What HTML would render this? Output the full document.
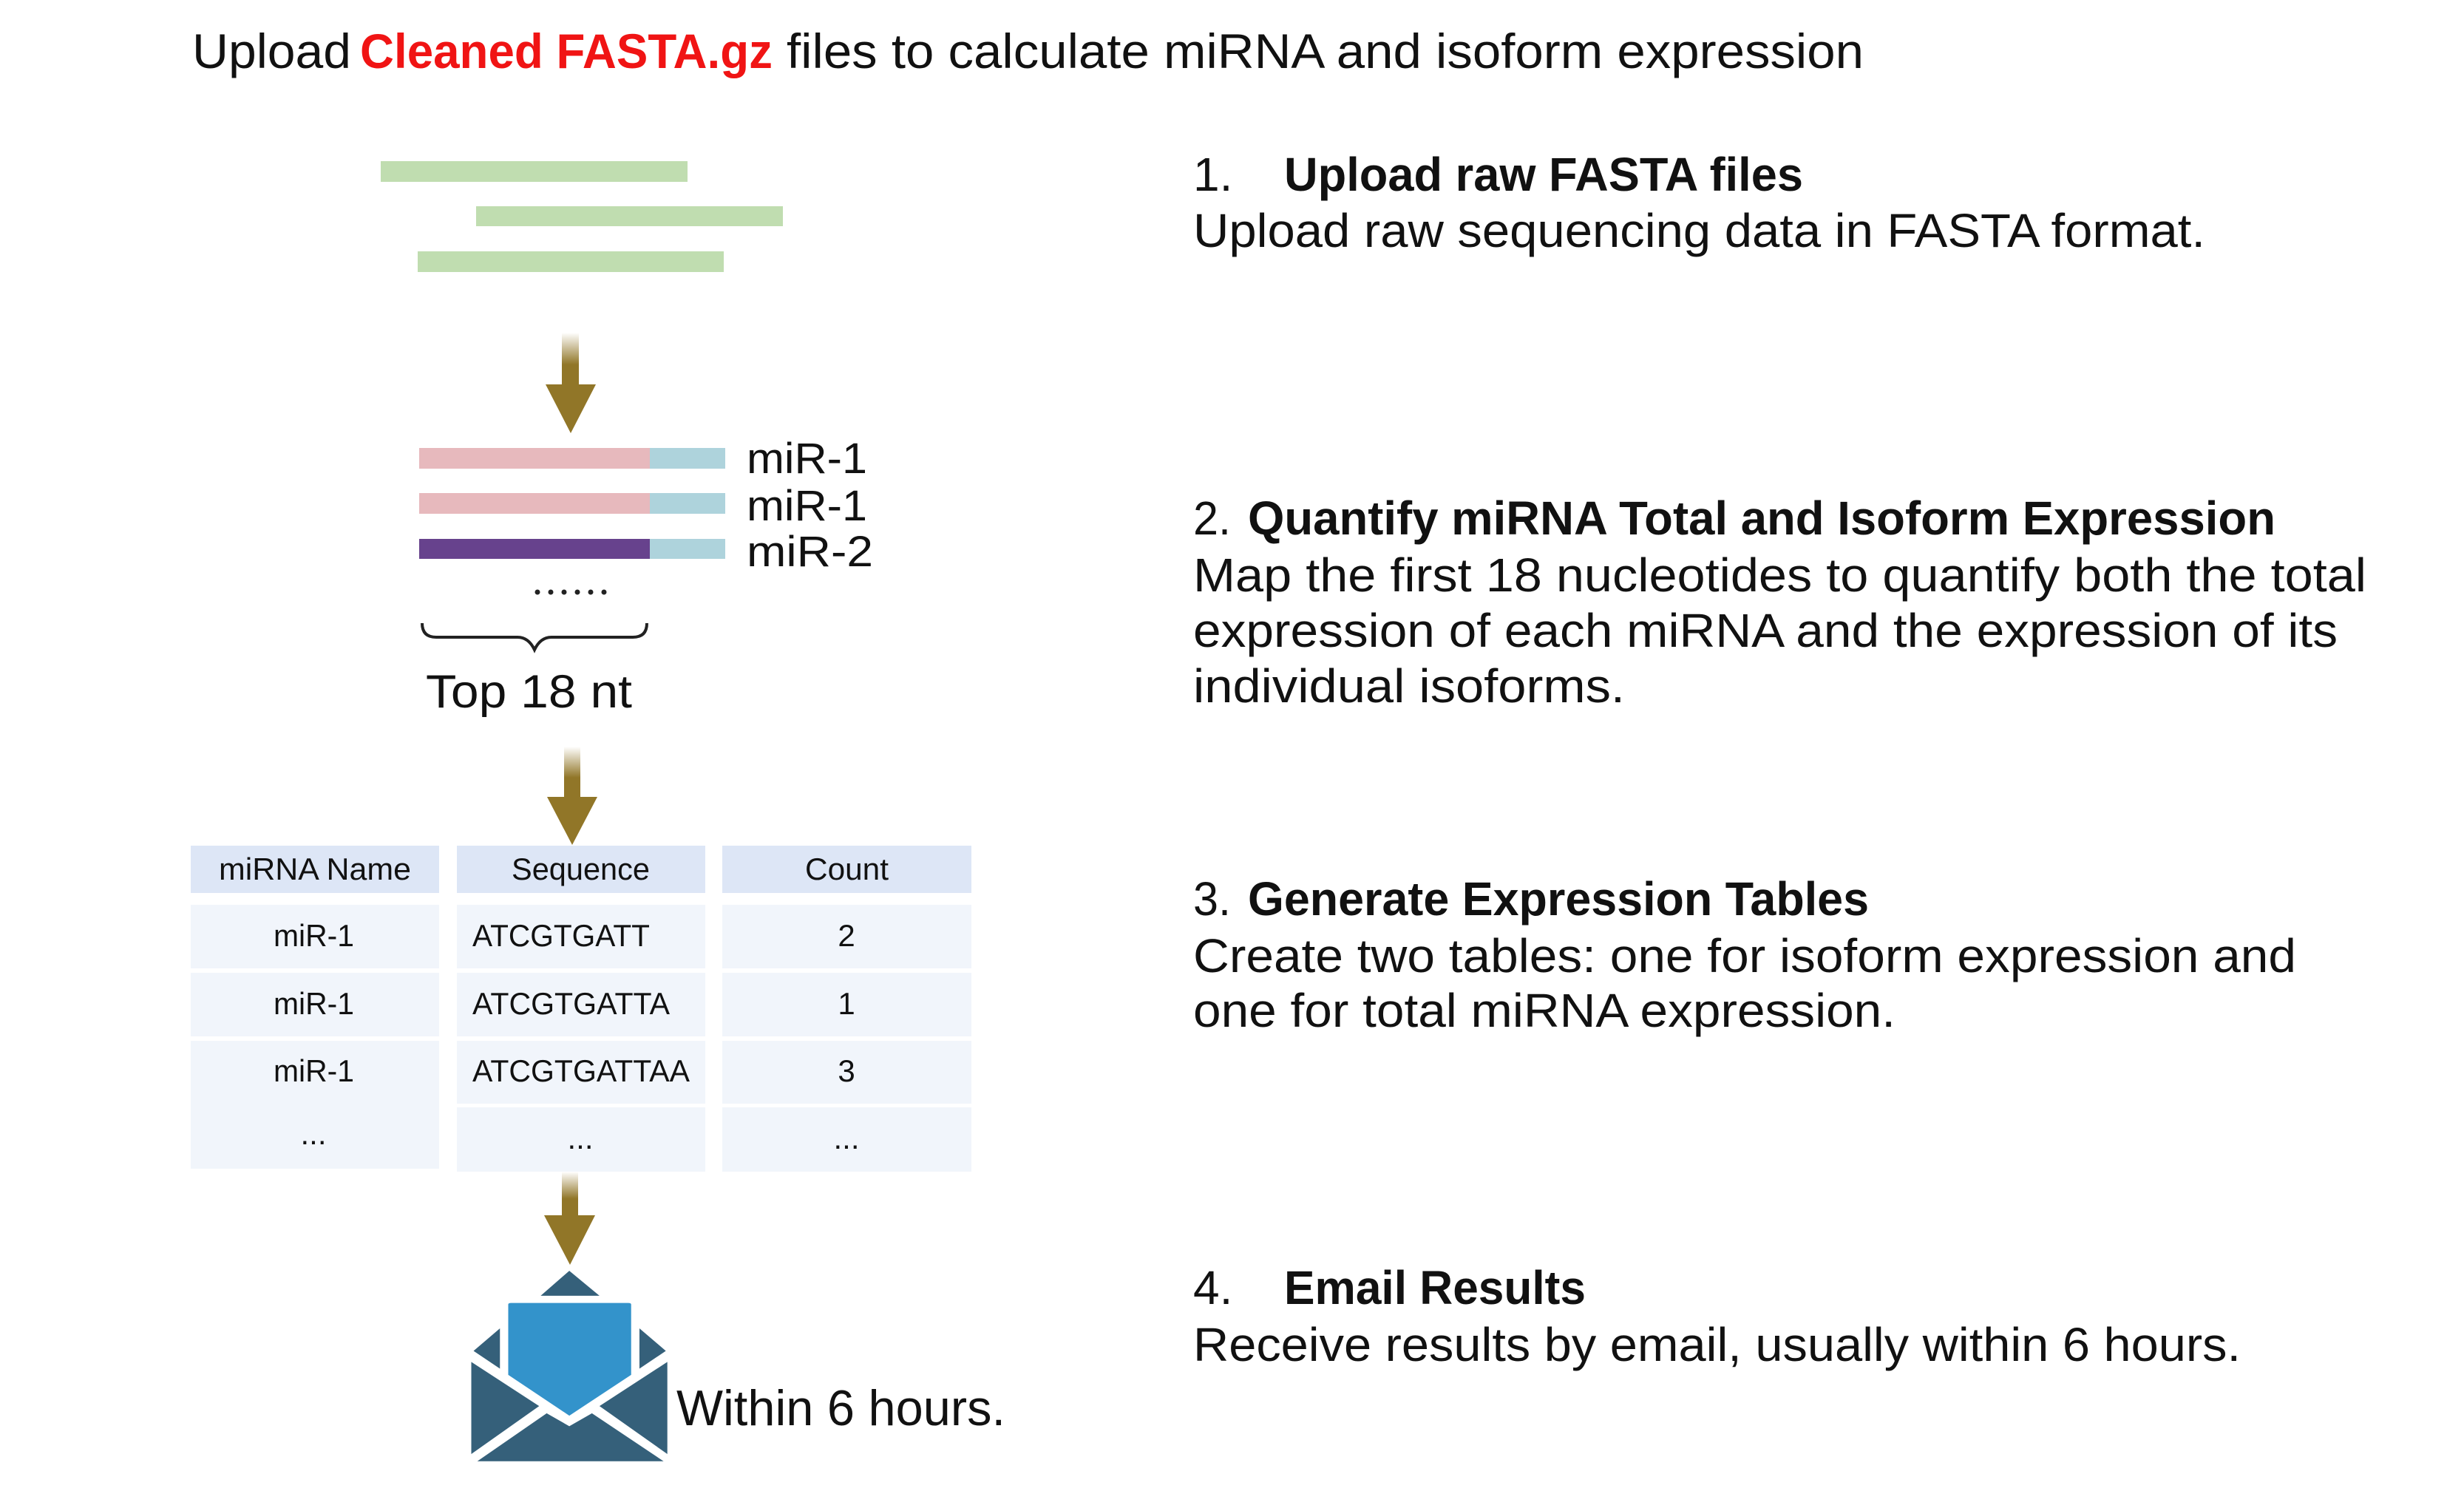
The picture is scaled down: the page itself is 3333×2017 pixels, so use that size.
<!DOCTYPE html>
<html><head><meta charset="utf-8"><style>
html,body{margin:0;padding:0;background:#fff;}
svg{display:block;}
text{font-family:"Liberation Sans",Arial,sans-serif;fill:#111;}
</style></head><body>
<svg width="3333" height="2017" viewBox="0 0 3333 2017" xmlns="http://www.w3.org/2000/svg">
<defs>
<linearGradient id="sh" x1="0" y1="0" x2="0" y2="1">
<stop offset="0" stop-color="#917628" stop-opacity="0"/>
<stop offset="0.6" stop-color="#917628" stop-opacity="1"/>
</linearGradient>
</defs>
<!-- title -->
<text x="260" y="92" font-size="66" textLength="215" lengthAdjust="spacingAndGlyphs">Upload</text>
<text x="487" y="92" font-size="66" font-weight="bold" style="fill:#f01414" textLength="558" lengthAdjust="spacingAndGlyphs">Cleaned FASTA.gz</text>
<text x="1064" y="92" font-size="66" textLength="1457" lengthAdjust="spacingAndGlyphs">files to calculate miRNA and isoform expression</text>

<!-- green reads -->
<rect x="515" y="218" width="415" height="28" fill="#c0ddb0"/>
<rect x="644" y="279" width="415" height="27" fill="#c0ddb0"/>
<rect x="565" y="340" width="414" height="28" fill="#c0ddb0"/>

<!-- arrow 1 -->
<rect x="760" y="450" width="23" height="72" fill="url(#sh)"/>
<polygon points="738,520 806,520 772,586" fill="#917628"/>

<!-- mapped reads -->
<rect x="567" y="606" width="312" height="28" fill="#e7b9bd"/>
<rect x="879" y="606" width="102" height="28" fill="#aed3dc"/>
<rect x="567" y="667" width="312" height="28" fill="#e7b9bd"/>
<rect x="879" y="667" width="102" height="28" fill="#aed3dc"/>
<rect x="567" y="729" width="312" height="27" fill="#67428d"/>
<rect x="879" y="729" width="102" height="27" fill="#aed3dc"/>
<text x="1010" y="640" font-size="58" textLength="163" lengthAdjust="spacingAndGlyphs">miR-1</text>
<text x="1010" y="704" font-size="58" textLength="163" lengthAdjust="spacingAndGlyphs">miR-1</text>
<text x="1010" y="766" font-size="58" textLength="171" lengthAdjust="spacingAndGlyphs">miR-2</text>
<g fill="#222">
<circle cx="727" cy="801" r="3.5"/><circle cx="745" cy="801" r="3.5"/><circle cx="763" cy="801" r="3.5"/><circle cx="781" cy="801" r="3.5"/><circle cx="799" cy="801" r="3.5"/><circle cx="817" cy="801" r="3.5"/>
</g>
<path d="M571,843 Q571,862 590,862 L700,862 Q715,862 723,879 Q731,862 746,862 L856,862 Q875,862 875,843" fill="none" stroke="#222" stroke-width="4"/>
<text x="576" y="957" font-size="63" textLength="279" lengthAdjust="spacingAndGlyphs">Top 18 nt</text>

<!-- arrow 2 -->
<rect x="763" y="1010" width="22" height="70" fill="url(#sh)"/>
<polygon points="740,1078 808,1078 774,1143" fill="#917628"/>

<!-- table -->
<g fill="#dde6f6">
<rect x="258" y="1144" width="336" height="64"/>
<rect x="618" y="1144" width="336" height="64"/>
<rect x="977" y="1144" width="337" height="64"/>
</g>
<g fill="#f1f5fb">
<rect x="258" y="1224" width="336" height="86"/>
<rect x="618" y="1224" width="336" height="86"/>
<rect x="977" y="1224" width="337" height="86"/>
<rect x="258" y="1316" width="336" height="86"/>
<rect x="618" y="1316" width="336" height="86"/>
<rect x="977" y="1316" width="337" height="86"/>
<rect x="258" y="1408" width="336" height="173"/>
<rect x="618" y="1408" width="336" height="85"/>
<rect x="977" y="1408" width="337" height="85"/>
<rect x="618" y="1498" width="336" height="87"/>
<rect x="977" y="1498" width="337" height="87"/>
</g>
<g font-size="42">
<text x="296" y="1190" textLength="260" lengthAdjust="spacingAndGlyphs">miRNA Name</text>
<text x="692" y="1190" textLength="187" lengthAdjust="spacingAndGlyphs">Sequence</text>
<text x="1089" y="1190" textLength="113" lengthAdjust="spacingAndGlyphs">Count</text>
<text x="370" y="1280" textLength="109" lengthAdjust="spacingAndGlyphs">miR-1</text>
<text x="639" y="1280" textLength="240" lengthAdjust="spacingAndGlyphs">ATCGTGATT</text>
<text x="1145" y="1280" text-anchor="middle">2</text>
<text x="370" y="1372" textLength="109" lengthAdjust="spacingAndGlyphs">miR-1</text>
<text x="639" y="1372" textLength="267" lengthAdjust="spacingAndGlyphs">ATCGTGATTA</text>
<text x="1145" y="1372" text-anchor="middle">1</text>
<text x="370" y="1463" textLength="109" lengthAdjust="spacingAndGlyphs">miR-1</text>
<text x="639" y="1463" textLength="294" lengthAdjust="spacingAndGlyphs">ATCGTGATTAA</text>
<text x="1145" y="1463" text-anchor="middle">3</text>
<text x="424" y="1548" text-anchor="middle">...</text>
<text x="785" y="1554" text-anchor="middle">...</text>
<text x="1145" y="1554" text-anchor="middle">...</text>
</g>

<!-- arrow 3 -->
<rect x="760" y="1585" width="22" height="61" fill="url(#sh)"/>
<polygon points="736,1644 805,1644 771,1711" fill="#917628"/>

<!-- envelope -->
<g transform="translate(0,1000) scale(1.02,0.649)">
<polygon points="755,1108 795,1160 717,1160" fill="#35607a"/>
<path d="M674,1178 Q674,1175 678,1175 L833,1175 Q837,1175 837,1178 L837,1325 L755,1410 L674,1325 Z" fill="#3393cb"/>
<polygon points="663,1228 663,1312 628,1275" fill="#35607a"/>
<polygon points="848,1228 848,1312 883,1275" fill="#35607a"/>
<polygon points="625,1298 715,1390 625,1490" fill="#35607a"/>
<polygon points="885,1298 795,1390 885,1490" fill="#35607a"/>
<polygon points="725,1405 755,1432 785,1405 880,1505 633,1505" fill="#35607a"/>
</g>
<text x="915" y="1928" font-size="68" textLength="445" lengthAdjust="spacingAndGlyphs">Within 6 hours.</text>

<!-- right column -->
<g font-size="64">
<text x="1614" y="258">1.</text>
<text x="1737" y="258" font-weight="bold" textLength="702" lengthAdjust="spacingAndGlyphs">Upload raw FASTA files</text>
<text x="1614" y="334" textLength="1369" lengthAdjust="spacingAndGlyphs">Upload raw sequencing data in FASTA format.</text>

<text x="1614" y="723" textLength="51" lengthAdjust="spacingAndGlyphs">2.</text>
<text x="1688" y="723" font-weight="bold" textLength="1390" lengthAdjust="spacingAndGlyphs">Quantify miRNA Total and Isoform Expression</text>
<text x="1614" y="800" textLength="1587" lengthAdjust="spacingAndGlyphs">Map the first 18 nucleotides to quantify both the total</text>
<text x="1614" y="875" textLength="1548" lengthAdjust="spacingAndGlyphs">expression of each miRNA and the expression of its</text>
<text x="1614" y="950" textLength="584" lengthAdjust="spacingAndGlyphs">individual isoforms.</text>

<text x="1614" y="1238" textLength="51" lengthAdjust="spacingAndGlyphs">3.</text>
<text x="1688" y="1238" font-weight="bold" textLength="840" lengthAdjust="spacingAndGlyphs">Generate Expression Tables</text>
<text x="1614" y="1315" textLength="1492" lengthAdjust="spacingAndGlyphs">Create two tables: one for isoform expression and</text>
<text x="1614" y="1389" textLength="950" lengthAdjust="spacingAndGlyphs">one for total miRNA expression.</text>

<text x="1614" y="1764">4.</text>
<text x="1737" y="1764" font-weight="bold" textLength="408" lengthAdjust="spacingAndGlyphs">Email Results</text>
<text x="1614" y="1841" textLength="1417" lengthAdjust="spacingAndGlyphs">Receive results by email, usually within 6 hours.</text>
</g>
</svg>
</body></html>
